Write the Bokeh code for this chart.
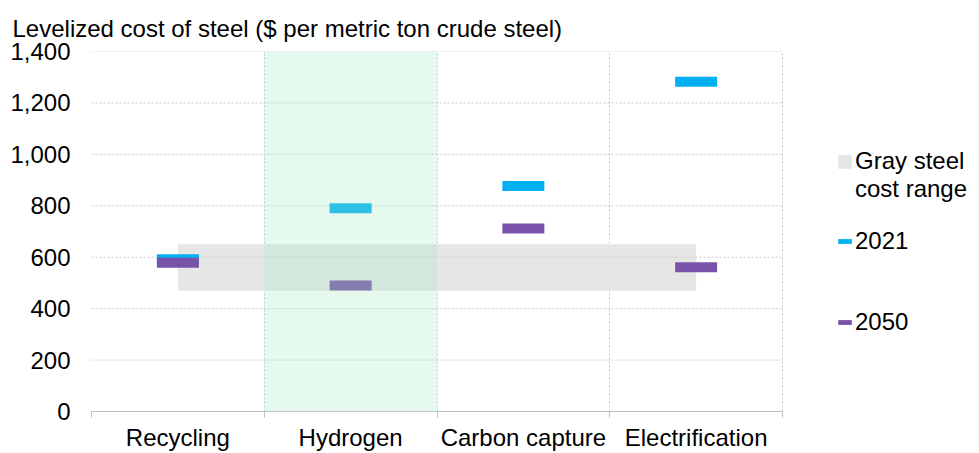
from bokeh.plotting import figure
from bokeh.models import (Range1d, FixedTicker, NumeralTickFormatter,
                          Legend, LegendItem)
from bokeh.embed import file_html
from bokeh.resources import INLINE

# ---- data ----
categories = ["Recycling", "Hydrogen", "Carbon capture", "Electrification"]
cost_2021 = [592, 790, 877, 1282]
cost_2050 = [578, 490, 712, 561]
gray_low = [470, 470, 470, 470]
gray_high = [650, 650, 650, 650]
highlight_category = "Hydrogen"
y_ticks = [0, 200, 400, 600, 800, 1000, 1200, 1400]
title_text = "Levelized cost of steel ($ per metric ton crude steel)"
legend_gray = ["Gray steel", "cost range"]
legend_years = ["2021", "2050"]

FONT = "Liberation Sans"
FS = "24px"
CYAN = "#00B0F0"
PURPLE = "#7953A9"
GRAY = "#E6E6E6"
GRID = "#C8C8C8"

n = len(categories)
centers = [i + 0.5 for i in range(n)]
x_end = n * 888 / 691  # frame extends into the legend area

p = figure(width=979, height=453, output_backend="svg", toolbar_location=None,
           x_range=Range1d(0, x_end), y_range=Range1d(0, 1400),
           min_border_left=91, min_border_right=0, min_border_top=51,
           min_border_bottom=41)
p.outline_line_color = None

# title
p.title.text = title_text
p.title.align = "left"
p.title.offset = -79
p.title.standoff = 20
p.title.text_font = FONT
p.title.text_font_size = FS
p.title.text_font_style = "normal"
p.title.text_color = "black"

# x axis: labels at category centres, ticks at boundaries
p.xaxis.ticker = FixedTicker(ticks=centers, minor_ticks=list(range(n + 1)))
p.xaxis.major_label_overrides = {c: name for c, name in zip(centers, categories)}
p.xaxis.bounds = (0, n)
p.xaxis.axis_line_color = "#BFBFBF"
p.xaxis.major_tick_line_color = None
p.xaxis.major_tick_out = 0
p.xaxis.major_tick_in = 0
p.xaxis.minor_tick_line_color = "#BFBFBF"
p.xaxis.minor_tick_out = 6
p.xaxis.minor_tick_in = 0
p.xaxis.major_label_standoff = 6
p.xaxis.major_label_text_font = FONT
p.xaxis.major_label_text_font_size = FS
p.xaxis.major_label_text_color = "black"

# y axis
p.yaxis.ticker = FixedTicker(ticks=y_ticks)
p.yaxis.formatter = NumeralTickFormatter(format="0,0")
p.yaxis.axis_line_color = None
p.yaxis.major_tick_line_color = None
p.yaxis.minor_tick_line_color = None
p.yaxis.major_tick_out = 0
p.yaxis.major_label_standoff = 21
p.yaxis.major_label_text_font = FONT
p.yaxis.major_label_text_font_size = FS
p.yaxis.major_label_text_color = "black"

# vertical grid at category boundaries
p.xgrid.ticker = FixedTicker(ticks=list(range(n + 1)))
p.xgrid.grid_line_color = GRID
p.xgrid.grid_line_dash = "2 2"
p.ygrid.grid_line_color = None

# gray steel band
band = p.varea(x=centers, y1=gray_low, y2=gray_high, fill_color=GRAY)
# transparent twin, used only for the second legend text line
band_twin = p.varea(x=centers, y1=gray_low, y2=gray_high, fill_color=GRAY, fill_alpha=0)

# horizontal grid lines, limited to the category area
yg = y_ticks[1:]
p.segment(x0=[0] * len(yg), x1=[n] * len(yg), y0=yg, y1=yg,
          line_color=GRID, line_dash="2 2", line_width=1)

# markers
r21 = p.rect(x=centers, y=cost_2021, width=0.243, height=10, height_units="screen",
             fill_color=CYAN, line_color=None)
r50 = p.rect(x=centers, y=cost_2050, width=0.243, height=10, height_units="screen",
             fill_color=PURPLE, line_color=None)

# highlight
hi = categories.index(highlight_category)
p.quad(left=[hi], right=[hi + 1], bottom=[0], top=[1400],
       fill_color="#A6EAC2", fill_alpha=0.28, line_color=None)


def make_legend(items, loc, spacing, gw, gh, lh):
    return Legend(items=items, location=loc, orientation="vertical",
                  glyph_width=gw, glyph_height=gh, label_height=lh,
                  label_standoff=2, spacing=spacing, padding=0, margin=0,
                  border_line_color=None, background_fill_alpha=0,
                  label_text_font=FONT, label_text_font_size=FS,
                  label_text_color="black")


leg1 = make_legend([LegendItem(label=legend_gray[0], renderers=[band]),
                    LegendItem(label=legend_gray[1], renderers=[band_twin])],
                   (745, 208), -1, 17, 17, 26)
leg2 = make_legend([LegendItem(label=legend_years[0], renderers=[r21]),
                    LegendItem(label=legend_years[1], renderers=[r50])],
                   (745, 75), 53, 17, 6, 26)
p.add_layout(leg1, "center")
p.add_layout(leg2, "center")

open("out.html", "w").write(file_html(p, INLINE))
